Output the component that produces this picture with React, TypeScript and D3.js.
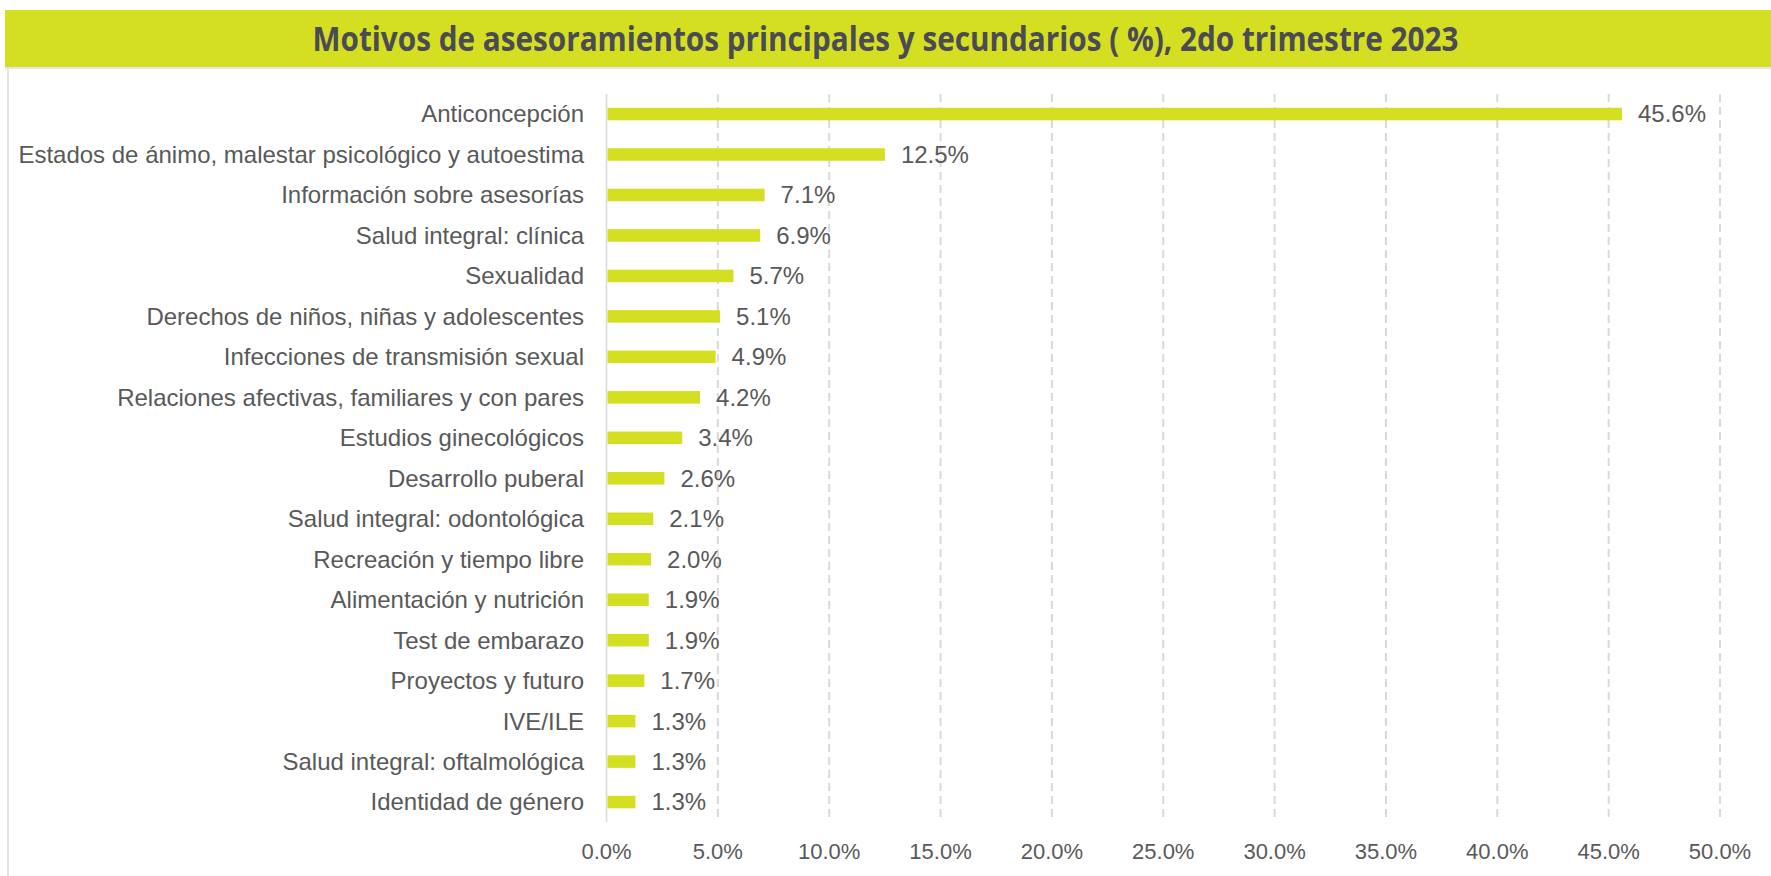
import React from "react";
import * as d3 from "d3";

const title = "Motivos de asesoramientos principales y secundarios ( %), 2do trimestre 2023";
const categories = [
  "Anticoncepción",
  "Estados de ánimo, malestar psicológico y autoestima",
  "Información sobre asesorías",
  "Salud integral: clínica",
  "Sexualidad",
  "Derechos de niños, niñas y adolescentes",
  "Infecciones de transmisión sexual",
  "Relaciones afectivas, familiares y con pares",
  "Estudios ginecológicos",
  "Desarrollo puberal",
  "Salud integral: odontológica",
  "Recreación y tiempo libre",
  "Alimentación y nutrición",
  "Test de embarazo",
  "Proyectos y futuro",
  "IVE/ILE",
  "Salud integral: oftalmológica",
  "Identidad de género",
];
const values = [45.6, 12.5, 7.1, 6.9, 5.7, 5.1, 4.9, 4.2, 3.4, 2.6, 2.1, 2.0, 1.9, 1.9, 1.7, 1.3, 1.3, 1.3];
const ticks = [0, 5, 10, 15, 20, 25, 30, 35, 40, 45, 50];

const W = 1771;
const H = 876;
const LIME = "#d5df22";
const TEXT = "#595959";

export default function App() {
  const x = d3.scaleLinear().domain([0, 50]).range([606.5, 1720]);
  const y = d3
    .scaleBand<string>()
    .domain(categories)
    .range([93.8, 822.3])
    .paddingInner(0.69)
    .paddingOuter(0.345);
  const bw = y.bandwidth();
  const font = "'Liberation Sans', Arial, sans-serif";

  return (
    <svg width={W} height={H} style={{ position: "absolute", left: 0, top: 0, background: "#fff" }}>
      <rect x={5} y={10} width={W - 5} height={57} fill={LIME} />
      <rect x={5} y={67} width={W - 5} height={2} fill="#e6e6e6" />
      <rect x={7} y={67} width={2} height={H - 67} fill="#e3e3e3" />
      <text
        x={W / 2}
        y={51}
        textAnchor="middle"
        fontFamily="'Open Sans', sans-serif"
        fontWeight={700}
        fontSize={34}
        fill="#4b4b55"
        textLength={1146}
        lengthAdjust="spacingAndGlyphs"
      >
        {title}
      </text>
      {ticks.slice(1).map((t) => (
        <line
          key={"g" + t}
          x1={x(t)}
          x2={x(t)}
          y1={94}
          y2={822}
          stroke="#d9d9d9"
          strokeWidth={2}
          strokeDasharray="8,5"
        />
      ))}
      <line x1={x(0)} x2={x(0)} y1={94} y2={822} stroke="#d9d9d9" strokeWidth={1.5} />
      {categories.map((c, i) => {
        const yc = (y(c) as number) + bw / 2;
        return (
          <g key={c}>
            <rect x={x(0) + 1} y={y(c)} width={x(values[i]) - x(0) - 1} height={bw} fill={LIME} />
            <text
              x={584}
              y={yc}
              dy="0.35em"
              textAnchor="end"
              fontFamily={font}
              fontSize={24}
              fill={TEXT}
            >
              {c}
            </text>
            <text x={x(values[i]) + 16} y={yc} dy="0.35em" fontFamily={font} fontSize={24} fill={TEXT}>
              {values[i].toFixed(1) + "%"}
            </text>
          </g>
        );
      })}
      {ticks.map((t) => (
        <text
          key={"t" + t}
          x={x(t)}
          y={851}
          dy="0.35em"
          textAnchor="middle"
          fontFamily={font}
          fontSize={22}
          fill={TEXT}
        >
          {t.toFixed(1) + "%"}
        </text>
      ))}
    </svg>
  );
}
